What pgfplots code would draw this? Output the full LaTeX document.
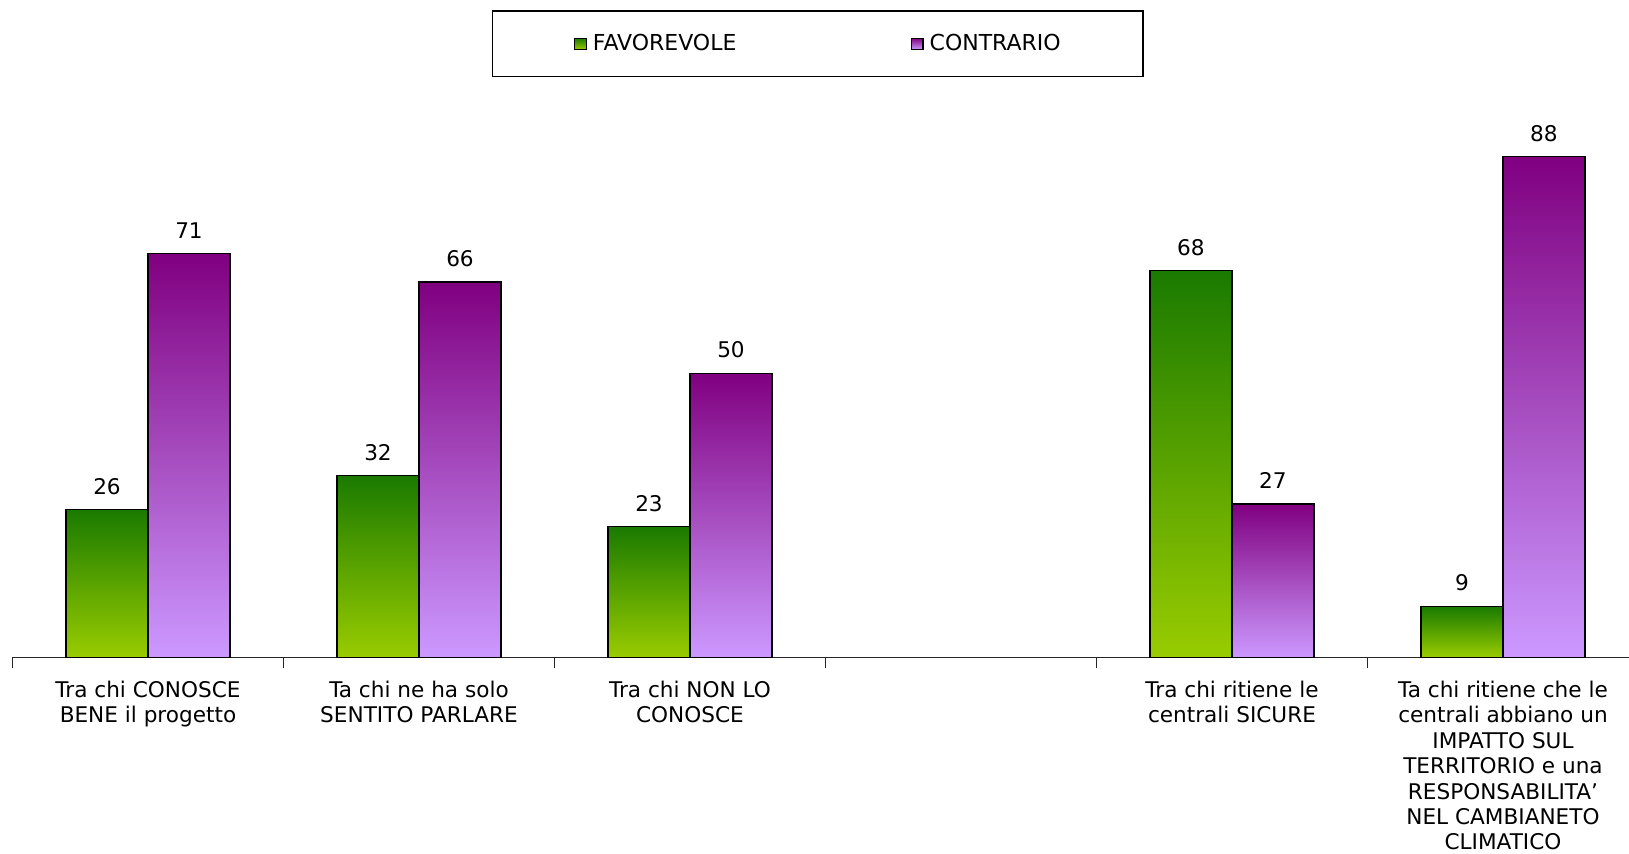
\documentclass[border=0pt]{standalone}
\usepackage{fontspec}
\setmainfont{DejaVu Sans}
\usepackage{pgfplots}
\pgfplotsset{compat=1.18}
\definecolor{gtop}{HTML}{1A7A00}
\definecolor{gbot}{HTML}{99CC00}
\definecolor{ptop}{HTML}{800080}
\definecolor{pmid}{HTML}{A262C2}
\definecolor{pbot}{HTML}{CC99FF}
\pgfplotsset{
  fav/.style={draw=black, line width=0.6pt, top color=gtop, bottom color=gbot, bar shift=-20.5pt},
  con/.style={draw=black, line width=0.6pt, top color=ptop, middle color=pmid, bottom color=pbot, bar shift=20.5pt},
}
\begin{document}
\begin{tikzpicture}
\useasboundingbox (0,0) rectangle (814.5pt,426.5pt);
\begin{axis}[
  at={(6.25pt,97.7pt)}, anchor=south west,
  scale only axis, width=808.25pt, height=284.5pt,
  xmin=-0.5, xmax=5.465, ymin=0, ymax=100,
  axis x line=bottom, axis y line=none,
  x axis line style={-, line width=0.8pt, draw=black!85},
  ybar=0pt, bar width=41pt,
  xtick={0,1,2,3,4,5},
  xticklabels={{Tra chi CONOSCE\\BENE il progetto},{Ta chi ne ha solo\\SENTITO PARLARE},{Tra chi NON LO\\CONOSCE},{},{Tra chi ritiene le\\centrali SICURE},{Ta chi ritiene che le\\centrali abbiano un\\IMPATTO SUL\\TERRITORIO e una\\RESPONSABILITA'\\NEL CAMBIANETO\\CLIMATICO}},
  xticklabel style={align=center, font={\fontsize{10.8}{12.7}\selectfont}, anchor=north, inner sep=0pt, yshift=-11.5pt},
  major tick length=0pt,
  minor xtick={-0.5,0.5,1.5,2.5,3.5,4.5},
  minor tick length=5.2pt, tick align=outside,
  minor tick style={line width=0.8pt, draw=black!85},
  /pgf/number format/assume math mode=true,
  nodes near coords,
  nodes near coords style={font={\fontsize{10.8}{12}\selectfont}, anchor=south, inner sep=0pt, yshift=7.3pt, text=black},
  legend columns=2,
  legend style={at={(0.498,1.1374)}, anchor=north, draw=black, line width=0.75pt,
    inner xsep=41pt, inner ysep=11.5pt, font={\fontsize{11}{13}\selectfont},
    nodes={inner sep=0pt},
    /tikz/every odd column/.style={column sep=3pt},
    /tikz/every even column/.append style={column sep=87.3pt}},
  legend image code/.code={\draw[#1, line width=0.6pt] (0pt,-2.85pt) rectangle (5.7pt,2.85pt);},
]
\addplot[fav] coordinates {(0,26)};
\addlegendentry{FAVOREVOLE}
\addplot[con] coordinates {(0,71)};
\addlegendentry{CONTRARIO}
\addplot[fav, forget plot] coordinates {(1,32)};
\addplot[fav, forget plot] coordinates {(2,23)};
\addplot[fav, forget plot] coordinates {(4,68)};
\addplot[fav, forget plot] coordinates {(5,9)};
\addplot[con, forget plot] coordinates {(1,66)};
\addplot[con, forget plot] coordinates {(2,50)};
\addplot[con, forget plot] coordinates {(4,27)};
\addplot[con, forget plot] coordinates {(5,88)};
\end{axis}
\end{tikzpicture}
\end{document}
